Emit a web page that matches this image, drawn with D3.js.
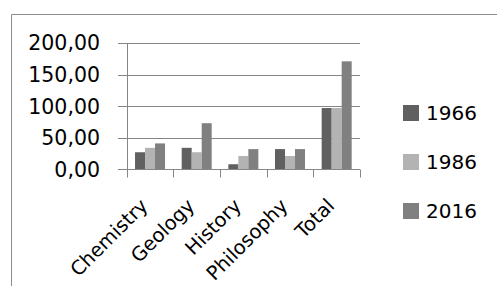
<!DOCTYPE html>
<html>
<head>
<meta charset="utf-8">
<script src="https://cdn.jsdelivr.net/npm/d3@7"></script>
<style>
  body { margin: 0; background: #fff; }
  text { font-family: "DejaVu Sans", Verdana, sans-serif; fill: #000; }
</style>
</head>
<body>
<div id="chart"></div>
<script>
// data
var subjects = ["Chemistry", "Geology", "History", "Philosophy", "Total"];
var years = ["1966", "1986", "2016"];
var v1966 = [27, 34, 8, 32, 97];
var v1986 = [34, 27, 21, 21, 97];
var v2016 = [41, 73, 32, 32, 171];
var yTicks = [0, 50, 100, 150, 200];
var colors = ["#606060", "#b3b3b3", "#808080"];

var W = 497, H = 286;

var svg = d3.select('#chart')
    .append('svg')
    .attr('width', W)
    .attr('height', H);

// outer frame (top + left edge only show)
svg.append('path')
    .attr('d', 'M11.5,' + H + 'V14.5H' + W)
    .attr('fill', 'none')
    .attr('stroke', '#8c8c8c')
    .attr('stroke-width', 1);

var x = d3.scaleBand()
    .domain(subjects)
    .range([126.7, 360])
    .paddingInner(0.357)
    .paddingOuter(0.357 / 2);

var x1 = d3.scaleBand()
    .domain(years)
    .range([0, x.bandwidth()]);

var y = d3.scaleLinear()
    .domain([0, 200])
    .range([169.3, 43]);

var series = [v1966, v1986, v2016];

// gridlines
svg.append('g').selectAll('line')
    .data(yTicks)
    .enter()
    .append('line')
    .attr('x1', 118).attr('x2', 360)
    .attr('y1', function (d) { return Math.round(y(d)) + 0.5; })
    .attr('y2', function (d) { return Math.round(y(d)) + 0.5; })
    .attr('stroke', '#868686')
    .attr('stroke-width', 1);

// y labels
svg.append('g').selectAll('text')
    .data(yTicks)
    .enter()
    .append('text')
    .attr('x', 100)
    .attr('y', function (d) { return y(d); })
    .attr('dy', '0.36em')
    .attr('text-anchor', 'end')
    .style('font-size', '20.5px')
    .text(function (d) { return d3.format('.2f')(d).replace('.', ','); });

// bars
var groups = svg.append('g').selectAll('g')
    .data(subjects)
    .enter()
    .append('g')
    .attr('transform', function (d) { return 'translate(' + x(d) + ',0)'; });

groups.selectAll('rect')
    .data(function (d, i) {
        return years.map(function (yr, j) { return { year: yr, value: series[j][i], k: j }; });
    })
    .enter()
    .append('rect')
    .attr('x', function (d) { return x1(d.year); })
    .attr('width', x1.bandwidth())
    .attr('y', function (d) { return y(d.value); })
    .attr('height', function (d) { return y(0) - y(d.value); })
    .attr('fill', function (d) { return colors[d.k]; });

// x axis line and category ticks
var y0 = Math.round(y(0)) + 0.5;
svg.append('line')
    .attr('x1', 126.7).attr('x2', 360)
    .attr('y1', y0).attr('y2', y0)
    .attr('stroke', '#868686');

var tickX = subjects.map(function (d) { return x(d) - x.step() * x.paddingInner() / 2; });
tickX.push(360);
svg.append('g').selectAll('line')
    .data(tickX)
    .enter()
    .append('line')
    .attr('x1', function (d) { return Math.round(d) + 0.5; })
    .attr('x2', function (d) { return Math.round(d) + 0.5; })
    .attr('y1', y0).attr('y2', y0 + 8)
    .attr('stroke', '#868686');

// y axis line
svg.append('line')
    .attr('x1', 127.5).attr('x2', 127.5)
    .attr('y1', Math.round(y(200))).attr('y2', y0)
    .attr('stroke', '#868686');

// rotated category labels
svg.append('g').selectAll('text')
    .data(subjects)
    .enter()
    .append('text')
    .attr('transform', function (d) {
        return 'translate(' + (x(d) + x.bandwidth() / 2 - 1) + ',207) rotate(-45)';
    })
    .attr('text-anchor', 'end')
    .style('font-size', '19.5px')
    .text(function (d) { return d; });

// legend
var legend = svg.append('g').selectAll('g')
    .data(years)
    .enter()
    .append('g')
    .attr('transform', function (d, i) { return 'translate(403,' + (105 + i * 49) + ')'; });

legend.append('rect')
    .attr('width', 16)
    .attr('height', 16)
    .attr('fill', function (d, i) { return colors[i]; });

legend.append('text')
    .attr('x', 23)
    .attr('y', 8)
    .attr('dy', '0.36em')
    .style('font-size', '20px')
    .text(function (d) { return d; });
</script>
</body>
</html>
